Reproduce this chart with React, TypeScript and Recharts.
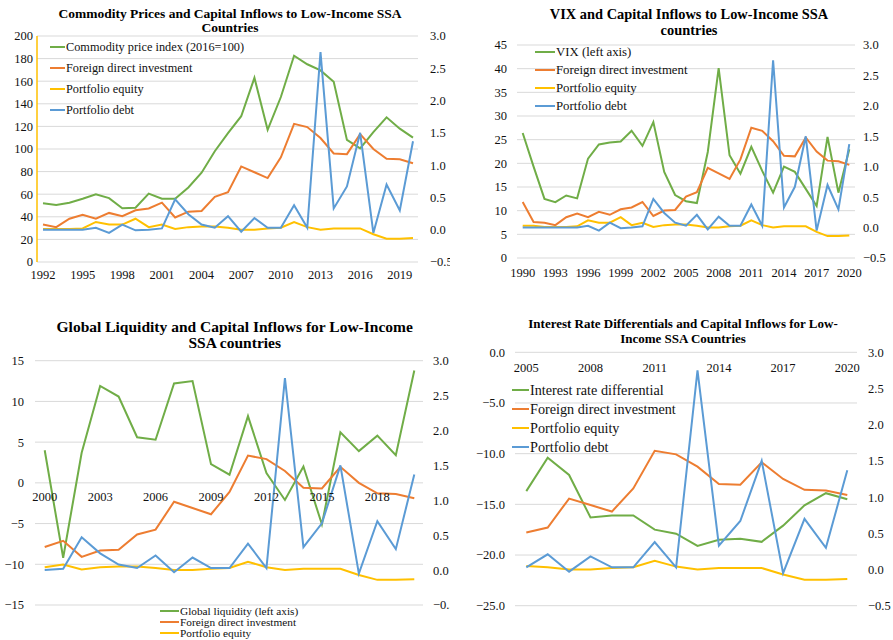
// Four panels: push factors vs. capital inflows to low-income SSA countries

import { CartesianGrid, Line, LineChart, XAxis, YAxis } from "recharts";

const FONT = '"Liberation Serif", "Times New Roman", serif';
const GREEN = "#70ad47";
const ORANGE = "#ed7d31";
const YELLOW = "#ffc000";
const BLUE = "#5b9bd5";
const GRID = "#d9d9d9";
const INK = "#111";

const YEARS = [
  1990, 1991, 1992, 1993, 1994, 1995, 1996, 1997, 1998, 1999, 2000, 2001, 2002, 2003, 2004, 2005,
  2006, 2007, 2008, 2009, 2010, 2011, 2012, 2013, 2014, 2015, 2016, 2017, 2018, 2019, 2020,
];

// right axis, 1990-2020
const FDI = [
  0.42, 0.09, 0.08, 0.04, 0.17, 0.23, 0.17, 0.26, 0.21, 0.3, 0.33, 0.42, 0.19, 0.28, 0.29, 0.51,
  0.58, 0.98, 0.89, 0.8, 1.12, 1.64, 1.59, 1.42, 1.18, 1.17, 1.48, 1.25, 1.1, 1.09, 1.03,
];
const EQUITY = [
  0.03, 0.03, 0.01, 0.01, 0.01, 0.02, 0.12, 0.08, 0.08, 0.17, 0.04, 0.08, 0.01, 0.04, 0.05, 0.05,
  0.03, 0.0, 0.0, 0.02, 0.03, 0.12, 0.04, 0.0, 0.02, 0.02, 0.02, -0.07, -0.14, -0.14, -0.13,
];
const DEBT = [
  0.0, 0.0, 0.0, 0.0, 0.0, 0.0, 0.03, -0.05, 0.08, -0.01, 0.0, 0.02, 0.47, 0.24, 0.08, 0.03,
  0.21, -0.03, 0.18, 0.03, 0.03, 0.38, 0.03, 2.75, 0.33, 0.67, 1.5, -0.05, 0.7, 0.3, 1.37,
];

// left axes
const COMMODITY = [
  52, 50.5, 52.5, 56, 60, 56.5, 47.5, 48, 60.5, 56, 56, 66, 79, 98, 114, 129, 163, 117, 146, 182.5,
  175, 169.5, 159.5, 108, 100.5, 115, 128, 118, 110,
]; // 1992-2020
const VIX = [
  26.4, 19.3, 12.5, 11.8, 13.2, 12.6, 21.0, 24.0, 24.4, 24.6, 26.9, 23.7, 28.7, 18.2, 13.3, 12.0,
  11.6, 22.4, 40.1, 21.7, 17.8, 23.5, 18.4, 13.8, 19.3, 18.2, 14.6, 11.0, 25.6, 13.8, 23.0,
]; // 1990-2020
const LIQUIDITY = [
  4.0, -9.2, 3.7, 11.9, 10.6, 5.6, 5.3, 12.2, 12.5, 2.3, 1.0, 8.2, 1.2, -2.1, 2.0, -5.1, 6.2, 3.9,
  5.8, 3.4, 13.8,
]; // 2000-2020
const RATE_DIFF = [
  -13.7, -10.4, -12.1, -16.3, -16.1, -16.1, -17.5, -17.9, -19.1, -18.5, -18.4, -18.7, -17.1,
  -15.1, -13.9, -14.5,
]; // 2005-2020

const RIGHT_TICKS = [-0.5, 0, 0.5, 1, 1.5, 2, 2.5, 3];

const minus = (s: string) => s.replace("-", "\u2212");
const fmt0 = (v: number) => minus(String(v));
const fmt1 = (v: number) => minus(v.toFixed(1));

function rows(first: number, main: number[]) {
  const s = YEARS.indexOf(first);
  return main.map((v, i) => ({
    year: String(YEARS[s + i]),
    main: v,
    fdi: FDI[s + i],
    equity: EQUITY[s + i],
    debt: DEBT[s + i],
  }));
}

type PanelProps = {
  x: number;
  y: number;
  width: number;
  height: number;
  plotTop: number;
  plotBottom: number;
  plotLeft: number;
  plotRight: number;
  padL: number;
  padR: number;
  leftGap: number;
  rightGap: number;
  xLabelY: number;
  data: ReturnType<typeof rows>;
  mainName: string;
  leftDomain: [number, number];
  leftTicks: number[];
  leftFmt: (v: number) => string;
  leftAxisColor?: string;
  title: string[];
  titleSize: number;
  titleX: number;
  titleY: number[];
  legendX: number;
  legendY: number;
  legendGap: number;
  legendSize: number;
  iconW: number;
  legendCount: number;
};

function Panel(p: PanelProps) {
  const tickStyle = { fill: INK, fontSize: 12.5, fontFamily: FONT };
  const XTick = (t: any) => (
    <text x={t.x} y={p.xLabelY} textAnchor="middle" dominantBaseline="central" {...tickStyle}>
      {t.payload.value}
    </text>
  );
  const legend = [
    { name: p.mainName, color: GREEN },
    { name: "Foreign direct investment", color: ORANGE },
    { name: "Portfolio equity", color: YELLOW },
    { name: "Portfolio debt", color: BLUE },
  ].slice(0, p.legendCount);

  return (
    <div
      style={{
        position: "absolute",
        left: p.x,
        top: p.y,
        width: p.width,
        height: p.height,
        overflow: "hidden",
        fontFamily: FONT,
      }}
    >
      <LineChart
        width={p.width}
        height={p.height}
        data={p.data}
        style={{ fontFamily: FONT }}
        margin={{ top: p.plotTop, right: 0, left: 0, bottom: p.height - p.plotBottom - 1 }}
      >
        <CartesianGrid yAxisId="left" vertical={false} stroke={GRID} />
        <XAxis
          dataKey="year"
          interval={2}
          height={1}
          axisLine={false}
          tickLine={false}
          tick={XTick}
          padding={{ left: p.padL, right: p.padR }}
        />
        <YAxis
          yAxisId="left"
          width={p.plotLeft}
          domain={p.leftDomain}
          ticks={p.leftTicks}
          interval={0}
          tickFormatter={p.leftFmt}
          axisLine={p.leftAxisColor ? { stroke: p.leftAxisColor, strokeWidth: 1.5 } : false}
          tickLine={false}
          tickSize={0}
          tickMargin={p.leftGap}
          tick={tickStyle}
        />
        <YAxis
          yAxisId="right"
          orientation="right"
          width={p.width - p.plotRight}
          domain={[-0.5, 3]}
          ticks={RIGHT_TICKS}
          interval={0}
          tickFormatter={fmt1}
          axisLine={false}
          tickLine={false}
          tickSize={0}
          tickMargin={p.rightGap}
          tick={tickStyle}
        />
        <Line yAxisId="left" dataKey="main" stroke={GREEN} strokeWidth={2} dot={false} isAnimationActive={false} />
        <Line yAxisId="right" dataKey="fdi" stroke={ORANGE} strokeWidth={2} dot={false} isAnimationActive={false} />
        <Line yAxisId="right" dataKey="equity" stroke={YELLOW} strokeWidth={2} dot={false} isAnimationActive={false} />
        <Line yAxisId="right" dataKey="debt" stroke={BLUE} strokeWidth={2} dot={false} isAnimationActive={false} />
      </LineChart>

      {p.title.map((t, i) => (
        <div
          key={t}
          style={{
            position: "absolute",
            left: p.titleX - 300,
            width: 600,
            top: p.titleY[i] - 9,
            height: 18,
            lineHeight: "18px",
            textAlign: "center",
            whiteSpace: "nowrap",
            fontWeight: "bold",
            fontSize: p.titleSize,
            color: "#000",
          }}
        >
          {t}
        </div>
      ))}

      {legend.map((e, i) => (
        <div
          key={e.name}
          style={{
            position: "absolute",
            left: p.legendX,
            top: p.legendY + i * p.legendGap - 9,
            height: 18,
            display: "flex",
            alignItems: "center",
            whiteSpace: "nowrap",
            fontSize: p.legendSize,
            color: INK,
          }}
        >
          <span style={{ display: "inline-block", width: p.iconW, height: 2, background: e.color }} />
          <span style={{ marginLeft: 1 }}>{e.name}</span>
        </div>
      ))}
    </div>
  );
}

export default function App() {
  return (
    <div style={{ position: "absolute", left: 0, top: 0, width: 893, height: 640, background: "#fff" }}>
      <Panel
        x={0}
        y={0}
        width={450}
        height={300}
        plotTop={36}
        plotBottom={262}
        plotLeft={37}
        plotRight={418}
        padL={6}
        padR={5}
        leftGap={4}
        rightGap={12}
        xLabelY={275}
        data={rows(1992, COMMODITY)}
        mainName="Commodity price index (2016=100)"
        leftDomain={[0, 200]}
        leftTicks={[0, 20, 40, 60, 80, 100, 120, 140, 160, 180, 200]}
        leftFmt={fmt0}
        leftAxisColor={YELLOW}
        title={["Commodity Prices and Capital Inflows to Low-Income SSA", "Countries"]}
        titleSize={13.5}
        titleX={230}
        titleY={[14, 28]}
        legendX={50}
        legendY={47}
        legendGap={21}
        legendSize={12.3}
        iconW={15}
        legendCount={4}
      />
      <Panel
        x={450}
        y={0}
        width={443}
        height={300}
        plotTop={45}
        plotBottom={258}
        plotLeft={67}
        plotRight={405}
        padL={5.7}
        padR={5.7}
        leftGap={10}
        rightGap={8}
        xLabelY={273}
        data={rows(1990, VIX)}
        mainName="VIX (left axis)"
        leftDomain={[0, 45]}
        leftTicks={[0, 5, 10, 15, 20, 25, 30, 35, 40, 45]}
        leftFmt={fmt0}
        title={["VIX and Capital Inflows to Low-Income SSA", "countries"]}
        titleSize={14.4}
        titleX={239}
        titleY={[13.5, 30]}
        legendX={85}
        legendY={52.3}
        legendGap={17.9}
        legendSize={12.8}
        iconW={20}
        legendCount={4}
      />
      <Panel
        x={0}
        y={300}
        width={450}
        height={340}
        plotTop={60.7}
        plotBottom={305}
        plotLeft={35}
        plotRight={423}
        padL={9.7}
        padR={8.7}
        leftGap={11}
        rightGap={10}
        xLabelY={196.7}
        data={rows(2000, LIQUIDITY)}
        mainName="Global liquidity (left axis)"
        leftDomain={[-15, 15]}
        leftTicks={[-15, -10, -5, 0, 5, 10, 15]}
        leftFmt={fmt0}
        title={["Global Liquidity  and Capital Inflows for Low-Income", "SSA countries"]}
        titleSize={15.5}
        titleX={234.7}
        titleY={[26.7, 43.3]}
        legendX={160}
        legendY={311}
        legendGap={11}
        legendSize={11.3}
        iconW={19}
        legendCount={3}
      />
      <Panel
        x={450}
        y={300}
        width={443}
        height={340}
        plotTop={52.3}
        plotBottom={305.7}
        plotLeft={65}
        plotRight={407}
        padL={11.3}
        padR={9.7}
        leftGap={10}
        rightGap={11}
        xLabelY={67.7}
        data={rows(2005, RATE_DIFF)}
        mainName="Interest rate differential"
        leftDomain={[-25, 0]}
        leftTicks={[-25, -20, -15, -10, -5, 0]}
        leftFmt={fmt1}
        title={["Interest Rate Differentials and Capital Inflows for Low-", "Income SSA Countries"]}
        titleSize={13}
        titleX={233}
        titleY={[24, 38.5]}
        legendX={62}
        legendY={90}
        legendGap={19}
        legendSize={14.2}
        iconW={17}
        legendCount={4}
      />
    </div>
  );
}
